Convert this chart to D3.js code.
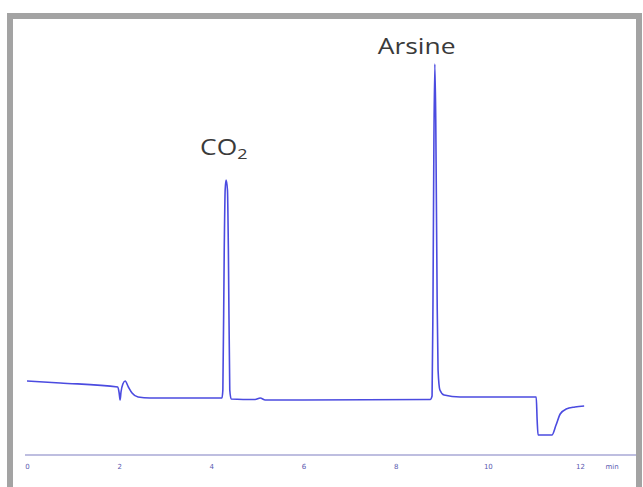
<!DOCTYPE html>
<html>
<head>
<meta charset="utf-8">
<script src="https://cdn.jsdelivr.net/npm/d3@7"></script>
<style>
  body { margin: 0; background: #fff; }
  svg { display: block; }
  .trace { fill: none; stroke: #4b4be0; stroke-width: 1.6; stroke-linejoin: round; }
  .axis path, .axis line { stroke: #a9a9d6; }
  .axis text { fill: #5a5ab0; font-family: "DejaVu Sans", sans-serif; font-size: 7px; }
  .peak-label { fill: #3a3a3a; font-family: "Open Sans", "Noto Sans", sans-serif; font-size: 22px; }
</style>
</head>
<body>
<svg id="chart" width="643" height="487"></svg>
<script>
// retention time (min) and detector signal (arbitrary units, baseline ~0)
const times = [0, 0.72, 1.97, 2.0, 2.02, 2.04, 2.08, 2.13, 2.2, 2.28, 2.41, 2.67,
  4.23, 4.25, 4.28, 4.30, 4.32, 4.35, 4.37, 4.40, 4.43, 4.95, 5.06, 5.17, 5.92,
  8.75, 8.79, 8.81, 8.83, 8.85, 8.87, 8.90, 8.92, 8.96, 9.05, 9.40,
  11.05, 11.07, 11.09, 11.39, 11.48, 11.57, 11.70, 11.89, 12.09]
const signal = [19, 17, 13, 7, 0, 8, 16, 19, 13, 7, 3, 2,
  2, 10, 150, 210, 220, 210, 150, 10, 1, 0.5, 2, 0, 0,
  0.5, 4, 100, 260, 336, 280, 100, 30, 10, 5, 3,
  3, -20, -35, -35, -25, -14, -9, -7, -6]
const tickValues = [0, 2, 4, 6, 8, 10, 12]
const peakNames = ["CO", "Arsine"]
const peakSubs = ["2", ""]
const peakTimes = [4.32, 8.85]

// label placement relative to the peak apex
const labelLayout = [{ dx: -26, y: 155 }, { dx: -57, y: 54 }]

const svg = d3.select("#chart")

// grey frame
svg.append("rect")
  .attr("x", 10).attr("y", 16).attr("width", 629).attr("height", 480)
  .attr("fill", "#fff").attr("stroke", "#a3a3a3").attr("stroke-width", 6)

const x = d3.scaleLinear().domain([0, 12]).range([27, 580])
const y = d3.scaleLinear().domain([-40, 340]).range([440, 60])

const axis = svg.append("g").attr("class", "axis")
  .attr("transform", "translate(0,455)")
  .call(d3.axisBottom(x).tickValues(tickValues).tickSize(0).tickPadding(9))
axis.select(".domain").attr("d", "M25,0H636").attr("stroke-width", 1.6)
axis.append("text").attr("x", 612).attr("y", 9).attr("dy", "0.71em")
  .attr("text-anchor", "middle").text("min")

const pts = times.map((t, i) => [t, signal[i]])
svg.append("path").attr("class", "trace")
  .attr("d", d3.line().x((d) => x(d[0])).y((d) => y(d[1])).curve(d3.curveMonotoneX)(pts))

// peak labels (source image is slightly stretched horizontally)
peakNames.forEach((name, i) => {
  const L = labelLayout[i]
  const txt = svg.append("text").attr("class", "peak-label")
    .attr("transform", `translate(${x(peakTimes[i]) + L.dx},${L.y}) scale(1.2,1)`)
  txt.append("tspan").text(name)
  if (peakSubs[i]) txt.append("tspan").attr("dy", 4).attr("font-size", 15).text(peakSubs[i])
})
</script>
</body>
</html>
